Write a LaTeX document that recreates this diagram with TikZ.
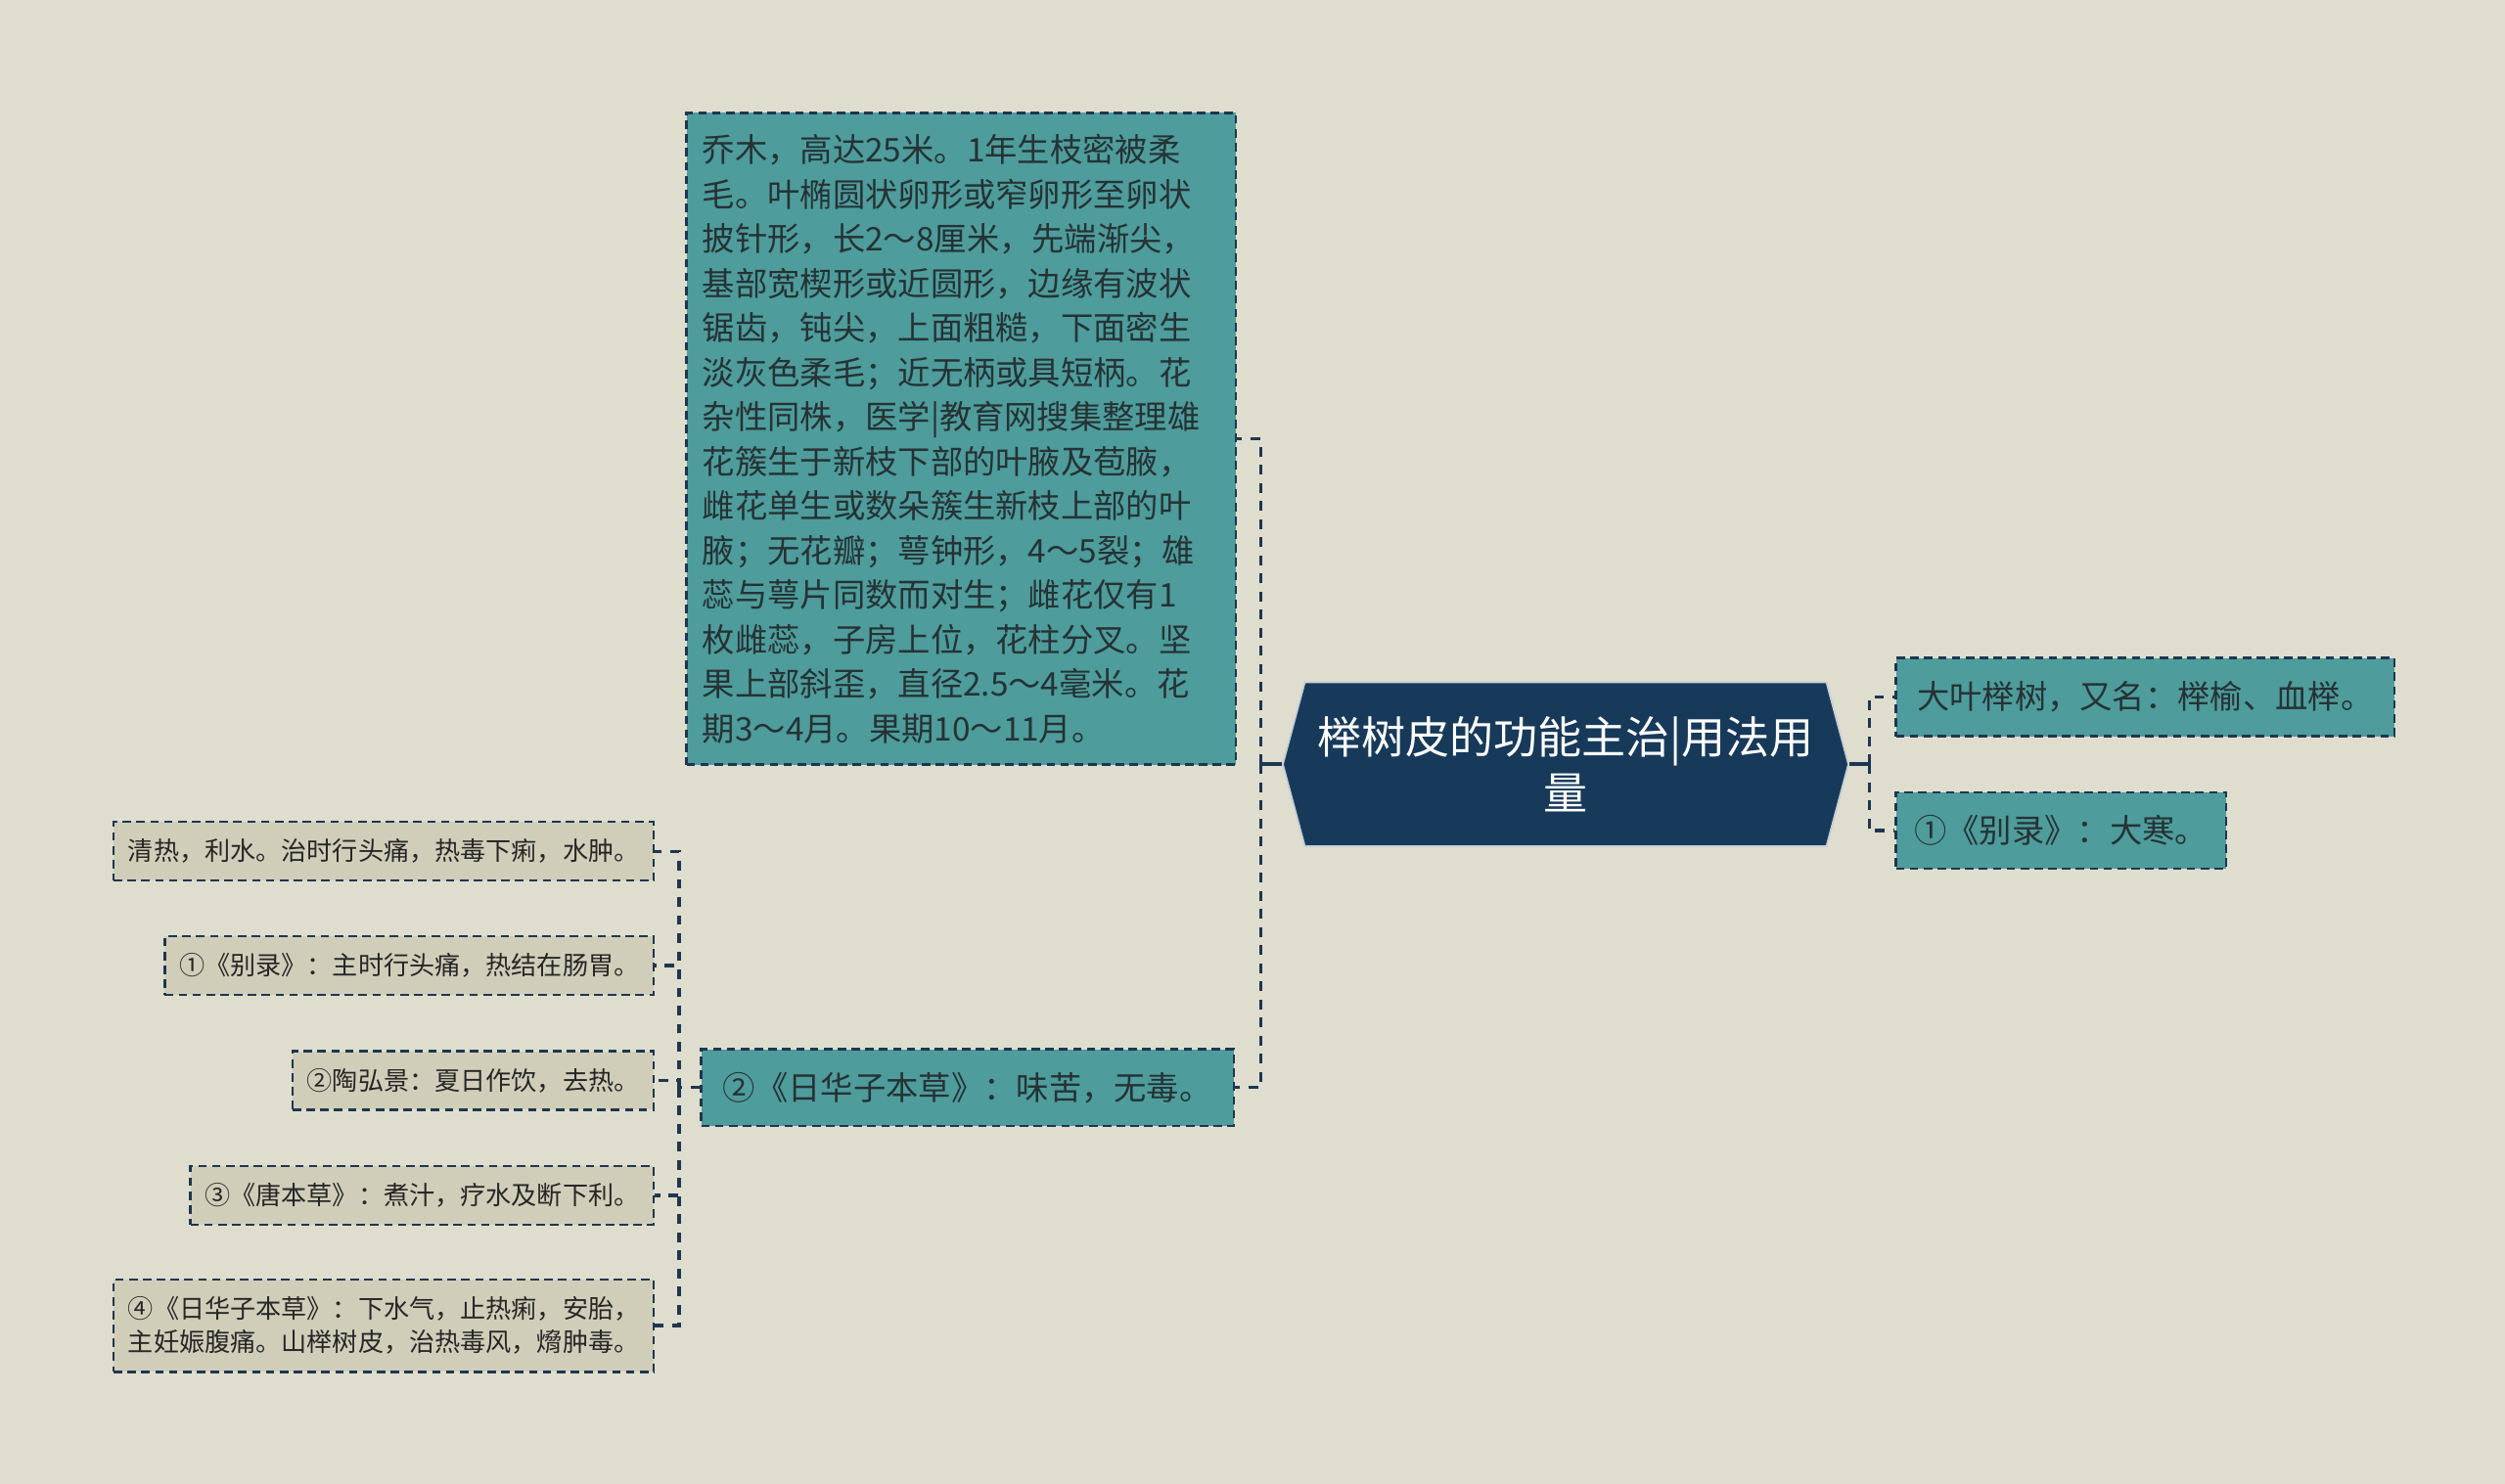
\documentclass[tikz,border=0pt]{standalone}
\usepackage{fontspec}
\newfontfamily\cjk{Noto Sans CJK SC}
\usepackage{tikz}
\usetikzlibrary{shapes.symbols}

\definecolor{paper}{RGB}{222,221,206}
\definecolor{leafteal}{RGB}{78,156,156}
\definecolor{rootblue}{RGB}{24,58,90}
\definecolor{linkblue}{RGB}{30,54,80}
\definecolor{notefill}{RGB}{208,206,185}
\definecolor{inkdark}{RGB}{38,50,52}

\tikzset{
  leaf/.style = {
    draw=linkblue, dashed, dash pattern=on 4pt off 2.5pt, line width=1.1pt,
    fill=leafteal, text=inkdark, inner xsep=8pt, inner ysep=0pt,
    font=\cjk\fontsize{15.3}{20.9}\selectfont, minimum height=36pt,
  },
  note/.style = {
    leaf, fill=notefill, text=black!85,
    font=\cjk\fontsize{12}{15.75}\selectfont, inner xsep=6.8pt,
    minimum height=27.5pt,
  },
  link/.style = {draw=linkblue, dashed, dash pattern=on 4.5pt off 4pt, line width=1.5pt},
  stub/.style = {draw=linkblue, line width=1.6pt},
}

\begin{document}
\begin{tikzpicture}[x=0.75pt, y=-0.75pt]
        \fill[paper] (0,0) rectangle (1568,929);
        \useasboundingbox (0,0) rectangle (1568,929);

        \node[
          signal, signal to=east and west, signal pointer angle=150,
          fill=rootblue, draw=white!75!rootblue, line width=0.8pt,
          minimum width=265.5pt, minimum height=77pt, inner sep=0pt,
          text=white, align=center, font=\cjk\fontsize{20.7}{26.25}\selectfont
        ] (root) at (980,478.5) {榉树皮的功能主治|用法用\\量};

        % left branch
        \node[leaf, anchor=north west, minimum width=258pt, minimum height=306pt,
          text width=243pt, align=left, inner xsep=7.5pt] (desc) at (429,70) {%
          乔木，高达25米。1年生枝密被柔\\
          毛。叶椭圆状卵形或窄卵形至卵状\\
          披针形，长2～8厘米，先端渐尖，\\
          基部宽楔形或近圆形，边缘有波状\\
          锯齿，钝尖，上面粗糙，下面密生\\
          淡灰色柔毛；近无柄或具短柄。花\\
          杂性同株，医学|教育网搜集整理雄\\
          花簇生于新枝下部的叶腋及苞腋，\\
          雌花单生或数朵簇生新枝上部的叶\\
          腋；无花瓣；萼钟形，4～5裂；雄\\
          蕊与萼片同数而对生；雌花仅有1\\
          枚雌蕊，子房上位，花柱分叉。坚\\
          果上部斜歪，直径2.5～4毫米。花\\
          期3～4月。果期10～11月。};
        \node[leaf, anchor=east, minimum width=250pt] (taste) at (773,681) {②《日华子本草》：味苦，无毒。};

        % right branch
        \node[leaf, anchor=west, minimum width=234pt, minimum height=36.75pt] (alias) at (1186,436.5) {大叶榉树，又名：榉榆、血榉。};
        \node[leaf, anchor=west, minimum width=155pt] (cold) at (1186,520) {①《别录》：大寒。};

        % notes under taste
        \node[note, anchor=east] (use)   at (410,533)   {清热，利水。治时行头痛，热毒下痢，水肿。};
        \node[note, anchor=east] (bielu) at (410,604.5) {①《别录》：主时行头痛，热结在肠胃。};
        \node[note, anchor=east] (tao)   at (410,676.5) {②陶弘景：夏日作饮，去热。};
        \node[note, anchor=east] (tang)  at (410,748.5) {③《唐本草》：煮汁，疗水及断下利。};
        \node[note, anchor=east, align=left, minimum height=43.5pt] (rihua) at (410,830)
          {④《日华子本草》：下水气，止热痢，安胎，\\主妊娠腹痛。山榉树皮，治热毒风，熁肿毒。};

        \coordinate (lj) at (789,478.5);
        \coordinate (rj) at (1170,478.5);
        \coordinate (tj) at (425,681);

        \draw[stub] (root.west) -- (lj);
        \draw[stub] (root.east) -- (rj);

        \begin{scope}[link]
          \draw (lj) |- (desc.east);
          \draw (lj) |- (taste.east);
          \draw (rj) |- (alias.west);
          \draw (rj) |- (cold.west);
          \draw (taste.west) -- (tj);
          \foreach \n in {use, bielu, tao, tang, rihua}
            \draw (tj) |- (\n.east);
        \end{scope}
      \end{tikzpicture}
\end{document}
